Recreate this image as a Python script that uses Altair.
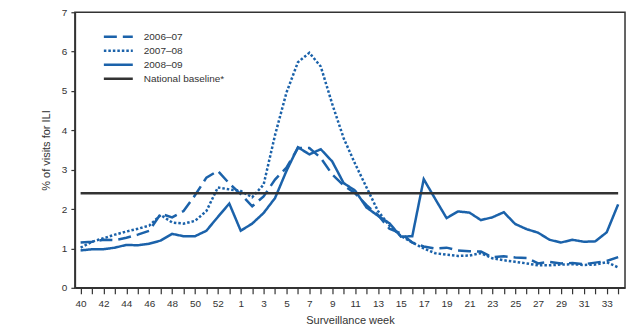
import altair as alt
import pandas as pd

weeks = list(range(40, 54)) + list(range(1, 35))

s2006_07 = [1.15, 1.17, 1.22, 1.21, 1.27, 1.35, 1.45, 1.88, 1.79, 1.95,
            2.35, 2.80, 2.97, 2.65, 2.38, 2.07, 2.32, 2.75, 3.05, 3.55,
            3.55, 3.30, 2.88, 2.60, 2.40, 2.10, 1.85, 1.50, 1.38, 1.15,
            1.05, 1.00, 1.02, 0.95, 0.93, 0.92, 0.78, 0.80, 0.77, 0.76,
            0.62, 0.66, 0.62, 0.63, 0.60, 0.64, 0.68, 0.78]
s2007_08 = [1.02, 1.17, 1.26, 1.35, 1.43, 1.50, 1.58, 1.85, 1.66, 1.63,
            1.70, 1.95, 2.55, 2.50, 2.46, 2.30, 2.62, 3.88, 4.96, 5.73,
            5.97, 5.62, 4.67, 3.80, 3.15, 2.55, 1.95, 1.58, 1.32, 1.15,
            1.00, 0.88, 0.84, 0.81, 0.82, 0.88, 0.75, 0.70, 0.66, 0.62,
            0.57, 0.57, 0.59, 0.60, 0.58, 0.59, 0.65, 0.52]
s2008_09 = [0.95, 0.98, 0.98, 1.02, 1.09, 1.08, 1.12, 1.20, 1.37, 1.31,
            1.31, 1.45, 1.80, 2.14, 1.45, 1.63, 1.90, 2.28, 2.97, 3.57,
            3.39, 3.52, 3.21, 2.66, 2.47, 2.04, 1.83, 1.64, 1.30, 1.31,
            2.76, 2.26, 1.77, 1.94, 1.91, 1.72, 1.79, 1.92, 1.62, 1.49,
            1.40, 1.22, 1.15, 1.22, 1.17, 1.18, 1.41, 2.12]
baseline = 2.4

series_names = ["2006–07", "2007–08", "2008–09", "National baseline*"]

rows = []
for name, vals in zip(series_names[:3], [s2006_07, s2007_08, s2008_09]):
    for i, v in enumerate(vals):
        rows.append({"idx": i, "week": weeks[i], "series": name, "value": v})
for i in (0, len(weeks) - 1):
    rows.append({"idx": i, "week": weeks[i], "series": series_names[3], "value": baseline})
df = pd.DataFrame(rows)

label_js = "[" + ",".join(str(w) for w in weeks) + "]"
blue = "#1b62aa"
dark = "#333333"
font = "Liberation Sans"

legend = alt.Legend(
    title=None, orient="none", legendX=35, legendY=16,
    symbolType="M-2,0H2", symbolSize=210, labelFontSize=10, labelFont=font,
    labelColor=dark, rowPadding=0, labelOffset=17,
)

chart = alt.Chart(df).mark_line(strokeCap="butt").encode(
    x=alt.X("idx:Q",
            scale=alt.Scale(domain=[-0.5, 47.6], nice=False, zero=False),
            axis=alt.Axis(values=list(range(len(weeks))),
                          labelExpr=f"datum.value % 2 == 0 ? {label_js}[datum.value] : ''",
                          title="Surveillance week", grid=False, tickSize=6,
                          labelPadding=5, titlePadding=6, labelFlush=False)),
    y=alt.Y("value:Q",
            scale=alt.Scale(domain=[0, 7], nice=False),
            axis=alt.Axis(values=list(range(8)), title="% of visits for ILI",
                          grid=False, tickSize=4, labelPadding=4, titlePadding=10)),
    color=alt.Color("series:N", sort=series_names,
                    scale=alt.Scale(domain=series_names, range=[blue, blue, blue, dark]),
                    legend=legend),
    strokeDash=alt.StrokeDash("series:N", sort=series_names,
                              scale=alt.Scale(domain=series_names,
                                              range=[[13, 6], [2.5, 2], [1, 0], [1, 0]]),
                              legend=legend),
    strokeWidth=alt.StrokeWidth("series:N", sort=series_names,
                                scale=alt.Scale(domain=series_names, range=[2.5, 2.5, 2.5, 1.5]),
                                legend=legend),
).properties(
    width=551, height=276,
    autosize=alt.AutoSizeParams(type="none"),
    padding={"left": 67, "top": 4, "right": 8, "bottom": 38},
).configure_view(
    stroke=dark, strokeWidth=1.5
).configure_axis(
    labelFont=font, titleFont=font, labelFontSize=10, titleFontSize=11,
    labelColor=dark, titleColor=dark, domainColor=dark, tickColor=dark,
    titleFontWeight="normal", domainWidth=1.5, tickWidth=1.2,
)

chart.save("out.html", embed_options={"renderer": "svg", "actions": False})
